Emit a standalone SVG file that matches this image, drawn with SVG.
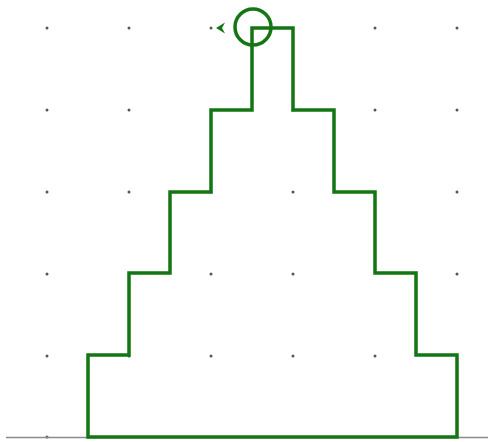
<svg xmlns="http://www.w3.org/2000/svg" width="488" height="442" viewBox="0 0 488 442">
<style>
.dot{fill:#555}
.axis{stroke:#8a8a8a;stroke-width:1.5;fill:none}
.pen{stroke:#137513;stroke-width:3.5;fill:none;stroke-linejoin:miter}
</style>
<rect width="488" height="442" fill="#fff"/>
<g id="grid">
<circle class="dot" cx="47" cy="28" r="1.5"/><circle class="dot" cx="129" cy="28" r="1.5"/><circle class="dot" cx="211" cy="28" r="1.5"/><circle class="dot" cx="375" cy="28" r="1.5"/><circle class="dot" cx="457" cy="28" r="1.5"/>
<circle class="dot" cx="47" cy="110" r="1.5"/><circle class="dot" cx="129" cy="110" r="1.5"/><circle class="dot" cx="293" cy="110" r="1.5"/><circle class="dot" cx="375" cy="110" r="1.5"/><circle class="dot" cx="457" cy="110" r="1.5"/>
<circle class="dot" cx="47" cy="192" r="1.5"/><circle class="dot" cx="129" cy="192" r="1.5"/><circle class="dot" cx="211" cy="192" r="1.5"/><circle class="dot" cx="293" cy="192" r="1.5"/><circle class="dot" cx="457" cy="192" r="1.5"/>
<circle class="dot" cx="47" cy="274" r="1.5"/><circle class="dot" cx="211" cy="274" r="1.5"/><circle class="dot" cx="293" cy="274" r="1.5"/><circle class="dot" cx="457" cy="274" r="1.5"/>
<circle class="dot" cx="47" cy="356" r="1.5"/><circle class="dot" cx="129" cy="356" r="1.5"/><circle class="dot" cx="211" cy="356" r="1.5"/><circle class="dot" cx="293" cy="356" r="1.5"/><circle class="dot" cx="375" cy="356" r="1.5"/>
<circle class="dot" cx="47" cy="437" r="1.5"/>
</g>
<line class="axis" x1="6" y1="437.5" x2="488" y2="437.5"/>
<g id="staircase">
<path class="pen" d="M88,437 V355 H129 V273 H170 V192 H211 V110 H252 V28 H293 V110 H334 V192 H375 V273 H416 V355 H457 V437 Z"/>
</g>
<g id="turtle">
<circle cx="253" cy="27" r="18" fill="none" stroke="#137513" stroke-width="3.5"/>
<polygon points="216,28 225,22.5 222,28 225,33.5" fill="#137513"/>
</g>
</svg>
